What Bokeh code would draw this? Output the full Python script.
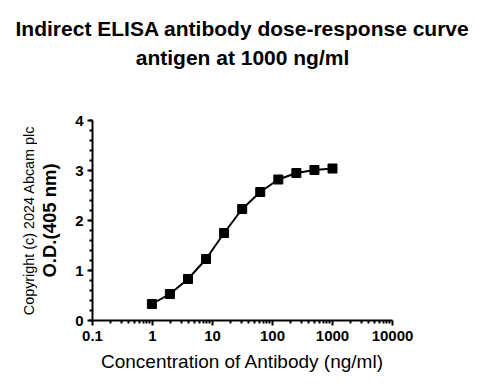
from bokeh.plotting import figure
from bokeh.models import Range1d, FixedTicker, Title, LinearAxis, SingleIntervalTicker
from bokeh.embed import file_html
from bokeh.resources import INLINE

# Data
conc = [0.977, 1.95, 3.91, 7.81, 15.6, 31.25, 62.5, 125, 250, 500, 1000]
od = [0.33, 0.53, 0.83, 1.23, 1.75, 2.23, 2.57, 2.82, 2.95, 3.01, 3.04]
x_ticks = [0.1, 1, 10, 100, 1000, 10000]
x_tick_labels = ["0.1", "1", "10", "100", "1000", "10000"]
title_line1 = "Indirect ELISA antibody dose-response curve"
title_line2 = "antigen at 1000 ng/ml"
x_label = "Concentration of Antibody (ng/ml)"
y_label = "O.D.(405 nm)"
copyright_text = "Copyright (c) 2024 Abcam plc"

FONT = "Liberation Sans"

p = figure(x_axis_type="log", frame_width=300, frame_height=200,
           min_border_left=92, min_border_right=80, min_border_top=120, min_border_bottom=56,
           x_range=Range1d(0.1, 10000), y_range=Range1d(0, 4),
           output_backend="svg", toolbar_location=None, title=None)

p.outline_line_color = None
p.xgrid.grid_line_color = None
p.ygrid.grid_line_color = None

xa = p.below[0]
ya = p.left[0]

# invisible spacer between frame and the title lines
spacer = LinearAxis(ticker=FixedTicker(ticks=[1]), major_label_overrides={1: ""},
                    axis_line_color=None,
                    major_tick_line_color=None, minor_tick_line_color=None,
                    major_label_text_font_size="0px", major_label_text_alpha=0,
                    major_tick_out=48, major_tick_in=0, minor_tick_out=0, minor_tick_in=0,
                    major_label_standoff=0, axis_label_standoff=0)
p.add_layout(spacer, "above")

t2 = Title(text=title_line2, align="center", text_font=FONT,
           text_font_size="21px", text_font_style="bold", text_color="black", standoff=8)
t1 = Title(text=title_line1, align="center", text_font=FONT,
           text_font_size="21px", text_font_style="bold", text_color="black", standoff=0)
p.add_layout(t2, "above")
p.add_layout(t1, "above")

minor = []
for d in range(-1, 4):
    for m in range(2, 10):
        minor.append(m * 10 ** d)
xa.ticker = FixedTicker(ticks=x_ticks, minor_ticks=minor)
xa.major_label_overrides = {t_: l for t_, l in zip(x_ticks, x_tick_labels)}
ya.ticker = SingleIntervalTicker(interval=1, num_minor_ticks=5)

for ax in (xa, ya):
    ax.axis_line_width = 2
    ax.axis_line_color = "black"
    ax.major_tick_line_width = 2
    ax.major_tick_line_color = "black"
    ax.minor_tick_line_width = 2
    ax.minor_tick_line_color = "black"
    ax.major_tick_out = 5
    ax.major_tick_in = 0
    ax.minor_tick_out = 3
    ax.minor_tick_in = 0
    ax.major_label_text_font = FONT
    ax.major_label_text_font_style = "bold"
    ax.major_label_text_font_size = "15px"
    ax.major_label_text_color = "black"
    ax.axis_label_text_font = FONT
    ax.axis_label_text_color = "black"

xa.axis_label = x_label
xa.axis_label_text_font_style = "normal"
xa.axis_label_text_font_size = "19px"
xa.axis_label_standoff = 7
xa.major_label_standoff = 5

ya.axis_label = y_label
ya.axis_label_text_font_style = "bold"
ya.axis_label_text_font_size = "18.5px"
ya.axis_label_standoff = 12
ya.major_label_standoff = 4

cax = LinearAxis(ticker=FixedTicker(ticks=[]), axis_label=copyright_text,
                 axis_line_color=None, major_tick_line_color=None, minor_tick_line_color=None,
                 major_tick_out=0, major_tick_in=0, minor_tick_out=0, minor_tick_in=0,
                 major_label_standoff=0, axis_label_standoff=0,
                 axis_label_text_font=FONT, axis_label_text_font_size="14.4px",
                 axis_label_text_font_style="normal", axis_label_text_color="black")
p.add_layout(cax, "left")

p.line(conc, od, line_color="black", line_width=2)
p.scatter(conc, od, marker="square", size=9, fill_color="black", line_color="black")

open("out.html", "w").write(file_html(p, INLINE))
